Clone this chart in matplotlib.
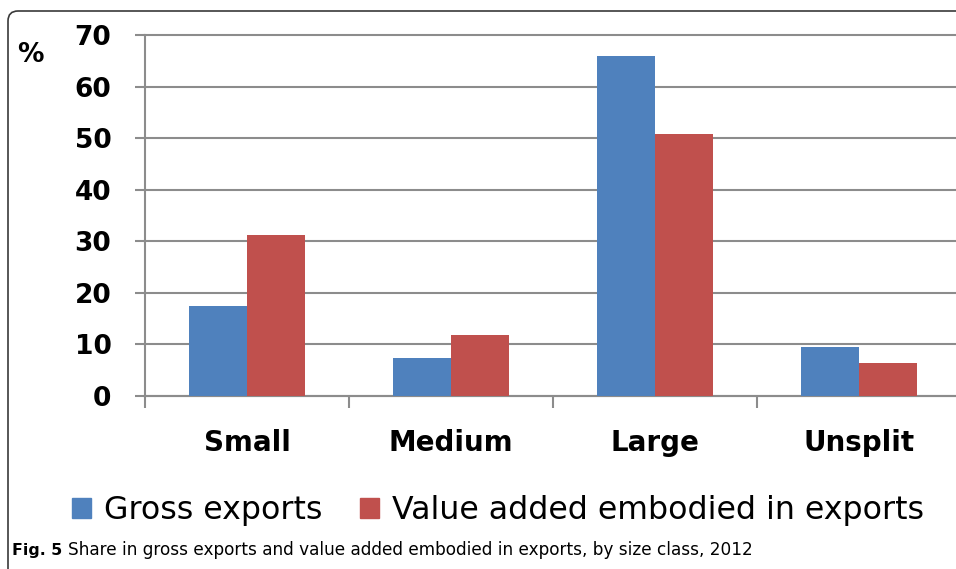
import numpy as np
import matplotlib
matplotlib.use("Agg")
from matplotlib import pyplot as plt
from matplotlib.patches import FancyBboxPatch, Patch
from matplotlib.transforms import IdentityTransform

categories = ["Small", "Medium", "Large", "Unsplit"]
gross_exports = [17.4, 7.4, 65.9, 9.5]
value_added = [31.2, 11.8, 50.8, 6.4]
y_ticks = [0, 10, 20, 30, 40, 50, 60, 70]

BLUE = "#4f81bd"
RED = "#c0504d"
GRID = "#8c8c8c"

fig = plt.figure(figsize=(9.56, 5.69), dpi=100)
ax = fig.add_axes([145 / 956, 173 / 569, 811 / 956, 361 / 569])

x = np.arange(len(categories))
w = 0.284
ax.bar(x - w / 2, gross_exports, w, color=BLUE, zorder=3)
ax.bar(x + w / 2, value_added, w, color=RED, zorder=3)

ax.set_xlim(-0.5, 3.475)
ax.set_ylim(0, 70)
ax.set_yticks(y_ticks)
ax.set_yticklabels([str(v) for v in y_ticks], fontsize=19, fontweight="bold")
ax.yaxis.grid(True, color=GRID, linewidth=1.5, zorder=0)
for g in ax.get_ygridlines():
    g.set_clip_on(False)
ax.tick_params(axis="y", length=7.2, width=1.5, color=GRID, pad=17)

# boundary ticks below the axis, category names in between
ax.set_xticks([-0.5, 0.5, 1.5, 2.5])
ax.set_xticklabels([])
ax.tick_params(axis="x", which="major", length=8.5, width=1.5, color=GRID)
ax.set_xticks(x, minor=True)
ax.set_xticklabels(categories, minor=True, fontsize=20, fontweight="bold")
ax.tick_params(axis="x", which="minor", length=0, pad=24)

for s in ["top", "right"]:
    ax.spines[s].set_visible(False)
for s in ["left", "bottom"]:
    ax.spines[s].set_color(GRID)
    ax.spines[s].set_linewidth(1.5)
ax.set_axisbelow(True)

fig.text(30 / 956, 1 - 55 / 569, "%", fontsize=19, fontweight="bold", ha="center", va="center")

handles = [Patch(color=BLUE), Patch(color=RED)]
fig.legend(handles, ["Gross exports", "Value added embodied in exports"],
           loc="center", bbox_to_anchor=(0.521, 0.102), ncol=2, frameon=False,
           fontsize=22.8, handlelength=0.6, handleheight=0.6, handletextpad=0.4,
           columnspacing=1.2, borderaxespad=0)

# caption
fig.text(12 / 956, 14 / 569, "Fig. 5", fontsize=11.3, fontweight="bold", va="baseline")
fig.text(68 / 956, 14 / 569,
         "Share in gross exports and value added embodied in exports, by size class, 2012",
         fontsize=12.2, va="baseline")

# rounded frame of the figure panel
frame = FancyBboxPatch((8, -30), 1000, 569 - 11 + 30,
                       boxstyle="round,pad=0,rounding_size=10",
                       transform=IdentityTransform(), fill=False,
                       edgecolor="#3a3a3a", linewidth=1.2)
fig.patches.append(frame)

fig.savefig("out.png", dpi=100)
